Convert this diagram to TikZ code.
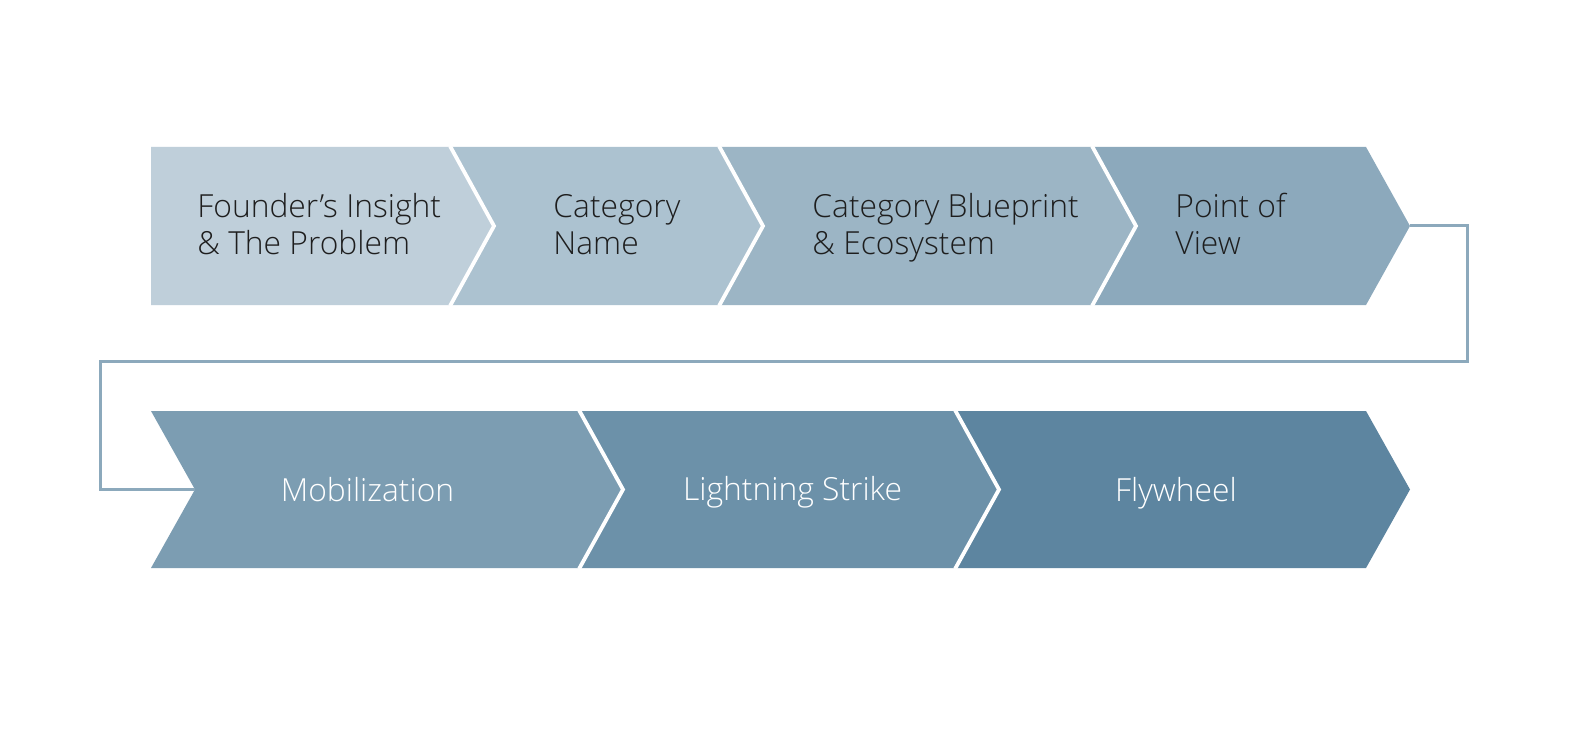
\documentclass[tikz,border=0pt]{standalone}
\usepackage{fontspec}
\IfFontExistsTF{Open Sans Light}{\setmainfont{Open Sans Light}}{\setmainfont{Open Sans}}
\definecolor{cA}{HTML}{BFCFDA}
\definecolor{cB}{HTML}{ACC2D0}
\definecolor{cC}{HTML}{9CB5C5}
\definecolor{cD}{HTML}{8CA9BC}
\definecolor{cE}{HTML}{7C9DB2}
\definecolor{cF}{HTML}{6C91A9}
\definecolor{cG}{HTML}{5D85A0}
\definecolor{txt}{HTML}{1E1E1E}
\begin{document}
\begin{tikzpicture}[x=0.5pt,y=-0.5pt,
  sep/.style={draw=white,line width=1.9pt,line join=miter},
  conn/.style={draw=cD,line width=1.5pt},
  toplabel/.style={anchor=base west,inner sep=0pt,align=left,text=txt,font=\fontsize{15.9}{18.6}\selectfont},
  botlabel/.style={anchor=base,inner sep=0pt,text=white,font=\fontsize{15.9}{18.6}\selectfont}]
\useasboundingbox[fill=white] (0,0) rectangle (1583,743);
% top row
\fill[cA] (151,147) -- (450,147) -- (494,226) -- (450,305) -- (151,305) -- cycle;
\fill[cB] (450,147) -- (719,147) -- (763,226) -- (719,305) -- (450,305) -- (494,226) -- cycle;
\fill[cC] (719,147) -- (1092,147) -- (1136,226) -- (1092,305) -- (719,305) -- (763,226) -- cycle;
\fill[cD] (1092,147) -- (1366,147) -- (1410,226) -- (1366,305) -- (1092,305) -- (1136,226) -- cycle;
\draw[sep] (450,146) -- (494,226) -- (450,306);
\draw[sep] (719,146) -- (763,226) -- (719,306);
\draw[sep] (1092,146) -- (1136,226) -- (1092,306);
% bottom row
\fill[cE] (151,411) -- (579,411) -- (623,489.5) -- (579,568) -- (151,568) -- (195,489.5) -- cycle;
\fill[cF] (579,411) -- (955,411) -- (999,489.5) -- (955,568) -- (579,568) -- (623,489.5) -- cycle;
\fill[cG] (955,411) -- (1366,411) -- (1410,489.5) -- (1366,568) -- (955,568) -- (999,489.5) -- cycle;
\draw[sep] (579,410) -- (623,489.5) -- (579,569);
\draw[sep] (955,410) -- (999,489.5) -- (955,569);
% connector
\coordinate (tip4) at (1410,226);
\coordinate (notch5) at (195,489.5);
\draw[conn] (tip4) -- (1467,226) -- (1467,361) -- (100,361) -- (100,489.5) -- (notch5);
% labels (base = last line)
\node[toplabel] (t1) at (197,255) {Founder’s Insight\\\& The Problem};
\node[toplabel] (t2) at (553,255) {Category\\Name};
\node[toplabel] (t3) at (812,255) {Category Blueprint\\\& Ecosystem};
\node[toplabel] (t4) at (1175,255) {Point of\\View};
\node[botlabel] (b1) at (367.5,501) {Mobilization};
\node[botlabel] (b2) at (792.5,500) {Lightning Strike};
\node[botlabel] (b3) at (1176,501) {Flywheel};
\end{tikzpicture}
\end{document}
